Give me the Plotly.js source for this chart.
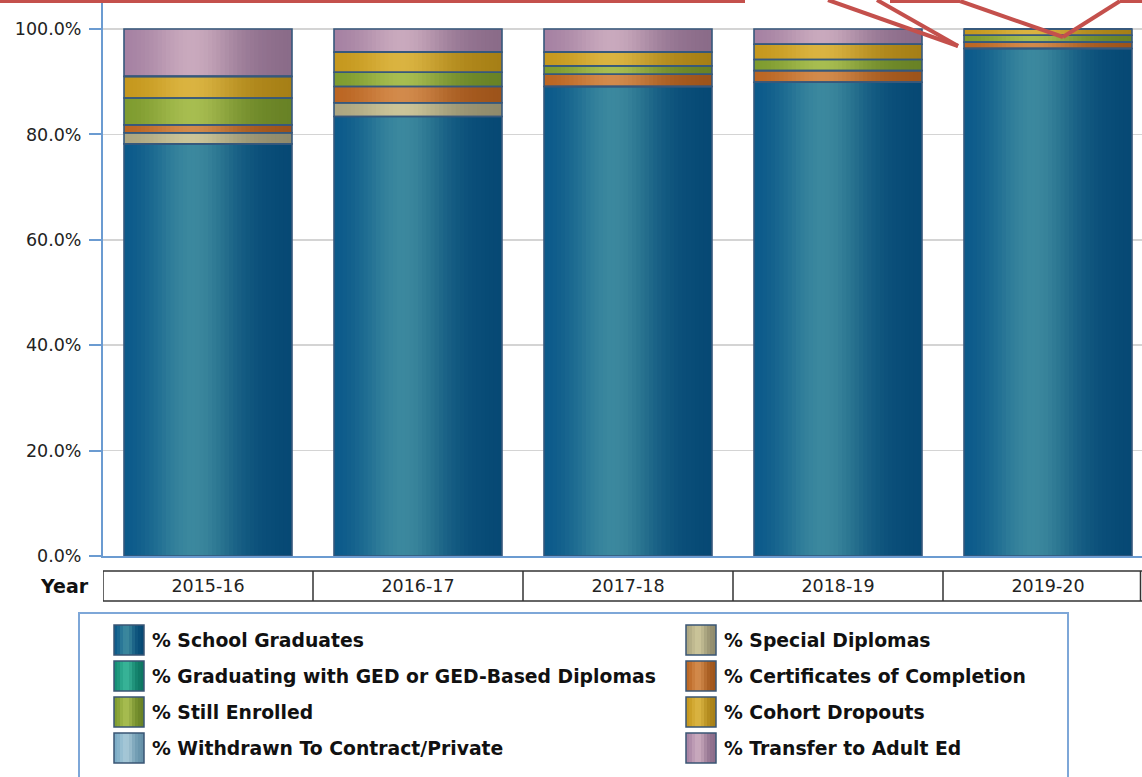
<!DOCTYPE html>
<html>
<head>
<meta charset="utf-8">
<script src="https://cdn.plot.ly/plotly-3.0.1.min.js"></script>
<style>
html,body{margin:0;padding:0;overflow:hidden;background:#fff;}
#chart{width:1160px;height:777px;}
</style>
</head>
<body>
<div id="chart"></div>
<script>
// ---- data ----
const years = ['2015-16', '2016-17', '2017-18', '2018-19', '2019-20'];
const schoolGraduates  = [78.2, 83.4, 89.1, 89.9, 96.3];
const specialDiplomas  = [2.1, 2.6, 0, 0, 0];
const gedDiplomas      = [0, 0, 0, 0, 0];
const certificates     = [1.5, 3.1, 2.3, 2.2, 1.2];
const stillEnrolled    = [5.1, 2.7, 1.6, 2.1, 1.3];
const cohortDropouts   = [4.1, 3.8, 2.6, 2.9, 1.2];
const withdrawnPrivate = [0, 0, 0, 0, 0];
const transferAdultEd  = [9.0, 4.4, 4.4, 2.9, 0];
const yTicks = [0, 20, 40, 60, 80, 100];
const yTickText = yTicks.map(v => v.toFixed(1) + '%');

const seriesNames = ['% School Graduates', '% Special Diplomas',
  '% Graduating with GED or GED-Based Diplomas', '% Certificates of Completion',
  '% Still Enrolled', '% Cohort Dropouts',
  '% Withdrawn To Contract/Private', '% Transfer to Adult Ed'];
const seriesValues = [schoolGraduates, specialDiplomas, gedDiplomas, certificates,
  stillEnrolled, cohortDropouts, withdrawnPrivate, transferAdultEd];

// ---- styles ----
const darkCols  = ['#075588', '#a8a27e', '#0f8a72', '#b8621f', '#7a982c', '#c3951a', '#76a9c4', '#a27ea0'];
const lightCols = ['#3f91a8', '#d8d1a3', '#3cc0a2', '#e09350', '#b2c955', '#e8bf45', '#b0d4e4', '#d6b4c9'];

function hex2rgb(h){return [parseInt(h.slice(1,3),16),parseInt(h.slice(3,5),16),parseInt(h.slice(5,7),16)];}
function shade(i, t){
  const a = hex2rgb(darkCols[i]), b = hex2rgb(lightCols[i]);
  const f = Math.exp(-Math.pow((t-0.42)/0.26, 2));
  const d = 1 - 0.15*t;
  const c = a.map((v,j)=>Math.round((v + (b[j]-v)*f)*d));
  return 'rgb('+c.join(',')+')';
}

const NS = 40, BW = 0.8;
const traces = [];
const base = years.map(()=>0);
const bases = [];
seriesValues.forEach((vals, i) => {
  const b = base.slice();
  bases.push(b);
  for (let k = 0; k < NS; k++) {
    traces.push({
      type: 'bar', x: years, y: vals, base: b,
      width: BW - k*BW/NS, offset: -BW/2 + k*BW/NS,
      marker: {color: shade(i, (k+0.5)/NS), line: {width: 0}},
      hoverinfo: 'skip', showlegend: false
    });
  }
  vals.forEach((v, j) => { base[j] += v; });
});
seriesValues.forEach((vals, i) => {
  traces.push({
    type: 'bar', x: years, y: vals, base: bases[i], name: seriesNames[i],
    width: BW, offset: -BW/2,
    marker: {color: 'rgba(0,0,0,0)', line: {color: '#36587c', width: 1.6}},
    hoverinfo: 'skip', showlegend: false
  });
});

// ---- layout helpers (pixel -> paper) ----
const L = 103, W = 1050, H = 556;
const px = x => (x - L) / W;
const py = y => (H - y) / H;

const shapes = [];
const annotations = [];

// category table
const tblTop = py(571), tblBot = py(601);
shapes.push({type:'line', xref:'x', yref:'paper', x0:-0.5, x1:4.5, y0:tblTop, y1:tblTop, line:{color:'#333', width:1.5}});
shapes.push({type:'line', xref:'x', yref:'paper', x0:-0.5, x1:4.5, y0:tblBot, y1:tblBot, line:{color:'#333', width:1.5}});
for (let b = 0; b <= years.length; b++) {
  shapes.push({type:'line', xref:'x', yref:'paper', x0:b-0.5, x1:b-0.5, y0:tblTop, y1:tblBot, line:{color:'#333', width:1.5}});
}
shapes.push({type:'line', xref:'paper', yref:'paper', x0:px(1140.5), x1:px(1140.5), y0:tblTop, y1:tblBot, line:{color:'#333', width:1.5}});
annotations.push({xref:'paper', yref:'paper', x:px(91), y:py(586), xanchor:'right', yanchor:'middle',
  text:'Year', showarrow:false, font:{family:'DejaVu Sans', size:19, color:'#111', weight:'bold'}});

// legend box
shapes.push({type:'rect', xref:'paper', yref:'paper', x0:px(79), x1:px(1068), y0:py(613), y1:py(800),
  line:{color:'#7ea7d8', width:2}, fillcolor:'rgba(0,0,0,0)'});
const rowY = [640, 676, 712, 748];
const colSw = [114, 686], colTx = [150, 722];
seriesNames.forEach((nm, i) => {
  const r = Math.floor(i/2), c = i % 2;
  const x0 = colSw[c], x1 = colSw[c] + 30, yc = rowY[r];
  const n = 10;
  for (let k = 0; k < n; k++) {
    shapes.push({type:'rect', xref:'paper', yref:'paper',
      x0:px(x0 + k*(x1-x0)/n), x1:px(x1), y0:py(yc+15), y1:py(yc-15),
      line:{width:0}, fillcolor: shade(i, (k+0.5)/n)});
  }
  shapes.push({type:'rect', xref:'paper', yref:'paper', x0:px(x0), x1:px(x1), y0:py(yc+15), y1:py(yc-15),
    line:{color:'#3a5574', width:1.5}, fillcolor:'rgba(0,0,0,0)'});
  annotations.push({xref:'paper', yref:'paper', x:px(colTx[c]), y:py(yc), xanchor:'left', yanchor:'middle',
    text:nm, showarrow:false, font:{family:'DejaVu Sans', size:18.8, color:'#111', weight:'bold'}});
});

// red callout lines over the top
const red = {color:'#c4504c', width:4};
[[0,1,745,1],[828,0,958,46],[877,0,958,46],[890,1,960,1],[960,1,1063,37],[1063,37,1120,1],[1120,1,1150,1]]
  .forEach(s => shapes.push({type:'line', xref:'paper', yref:'paper', x0:px(s[0]), y0:py(s[1]), x1:px(s[2]), y1:py(s[3]), line:red}));

const layout = {
  width: 1160, height: 777,
  margin: {l: L, r: 1160 - L - W, t: 0, b: 777 - H},
  paper_bgcolor: '#fff', plot_bgcolor: '#fff',
  barmode: 'overlay', showlegend: false,
  xaxis: {
    type: 'category', categoryorder: 'array', categoryarray: years, range: [-0.5, 4.5],
    showgrid: false, zeroline: false, ticks: '',
    showline: true, linecolor: '#6b9bd1', linewidth: 2,
    tickfont: {family: 'DejaVu Sans', size: 17.5, color: '#222'},
    ticklabelstandoff: 13, fixedrange: true
  },
  yaxis: {
    range: [0, 105.5], tickmode: 'array', tickvals: yTicks, ticktext: yTickText,
    ticks: 'outside', ticklen: 12, tickwidth: 2, tickcolor: '#6b9bd1',
    showline: true, linecolor: '#6b9bd1', linewidth: 2,
    showgrid: true, gridcolor: '#d4d4d4', gridwidth: 1.5, zeroline: false,
    tickfont: {family: 'DejaVu Sans', size: 17.5, color: '#222'},
    ticklabelstandoff: 4, fixedrange: true
  },
  shapes: shapes,
  annotations: annotations
};

Plotly.newPlot('chart', traces, layout, {displayModeBar: false, staticPlot: true});
</script>
</body>
</html>
